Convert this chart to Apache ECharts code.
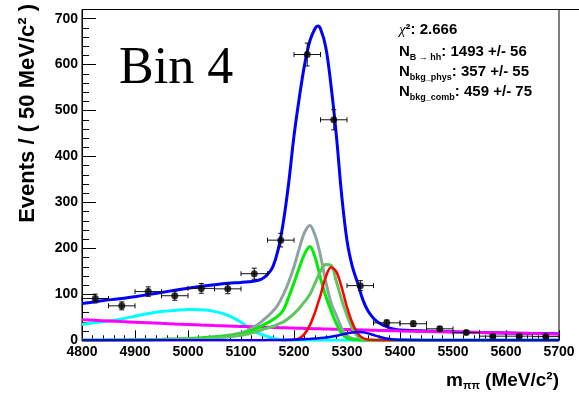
<!DOCTYPE html>
<html>
<head>
<meta charset="utf-8">
<script src="https://cdn.jsdelivr.net/npm/echarts@6/dist/echarts.min.js"></script>
<style>
  html, body { margin: 0; padding: 0; background: #ffffff; }
  #chart { width: 579px; height: 393px; }
</style>
</head>
<body>
<div id="chart"></div>
<script>
// ---- binned data (50 MeV/c^2 bins) ----
const binCentres = [4825, 4875, 4925, 4975, 5025, 5075, 5125, 5175, 5225, 5275,
                    5325, 5375, 5425, 5475, 5525, 5575, 5625, 5675];
const binCounts  = [91, 75, 106, 97, 113, 112, 145, 218, 622, 480,
                    119, 38, 36, 25, 17, 9, 9, 8];
const binErrors  = [9.5, 8.7, 10.3, 9.8, 10.6, 10.6, 12.0, 14.8, 24.9, 21.9,
                    10.9, 6.2, 6.0, 5.0, 4.1, 3.0, 3.0, 2.8];
const binHalfWidth = 25;

// ---- fit curves, sampled at fitMass ----
const fitMass = [4800, 4825, 4850, 4875, 4900, 4925, 4950, 4975, 5000, 5025, 5050, 5075,
  5100, 5110, 5120, 5130, 5140, 5150, 5160, 5170, 5180, 5190,
  5200, 5210, 5220, 5230, 5240, 5245, 5250, 5260, 5270, 5280, 5290,
  5300, 5310, 5320, 5330, 5340, 5350, 5360, 5370, 5380, 5390, 5400,
  5450, 5500, 5550, 5600, 5650, 5700];

const totalFit = [80, 84, 88, 91, 95, 99.5, 104, 109, 113.5, 117.5, 121, 124,
  126, 127, 128, 130, 134, 143, 160, 197, 258, 343,
  445, 528, 600, 652, 679, 684, 678, 638, 553, 445, 315,
  217, 161, 125, 88, 63, 48, 38, 32, 27, 24, 22.5,
  20, 18.5, 17, 16, 15, 14];

const combBkg = [45, 43.5, 42.1, 40.7, 39.5, 38.2, 36.9, 35.7, 34.6, 33.4, 32.3, 31.3,
  30.3, 29.9, 29.5, 29.1, 28.7, 28.4, 28.0, 27.6, 27.3, 26.9,
  26.6, 26.2, 25.9, 25.6, 25.2, 25.0, 24.9, 24.6, 24.3, 24.0, 23.7,
  23.4, 23.1, 22.8, 22.5, 22.2, 21.9, 21.6, 21.3, 21.0, 20.8, 20.5,
  19.2, 18.0, 16.8, 15.8, 14.8, 13.8];

const partRecoBkg = [35, 38.5, 42, 46.5, 52.5, 58.5, 62.5, 65, 67, 66.5, 63, 54.5,
  39.5, 31, 22.5, 16.5, 12, 8.5, 4.5, 1.5, 0.3, 0,
  0, 0, 0, 0, 0, 0, 0, 0, 0, 0, 0,
  0, 0, 0, 0, 0, 0, 0, 0, 0, 0, 0,
  0, 0, 0, 0, 0, 0];

const physBkgSum = [0.5, 0.6, 0.8, 1, 1.3, 1.7, 2.2, 3, 4, 5.5, 7.5, 11,
  16, 20, 26, 33, 42, 52, 63, 78, 100, 127,
  160, 200, 235, 250, 228, 208, 184, 128, 81, 54, 26,
  10, 4, 1.5, 0.5, 0, 0, 0, 0, 0, 0, 0,
  0, 0, 0, 0, 0, 0];

const physBkgA = [0.2, 0.3, 0.4, 0.6, 0.9, 1.3, 1.8, 2.5, 3.5, 5, 7, 9.5,
  13, 17, 21, 26, 32, 38, 45, 53, 66, 94,
  125, 158, 188, 204, 180, 159, 135, 96, 64, 36, 15,
  5, 1.5, 0.5, 0, 0, 0, 0, 0, 0, 0, 0,
  0, 0, 0, 0, 0, 0];

const physBkgB = [0.1, 0.2, 0.3, 0.4, 0.6, 0.8, 1.1, 1.5, 2, 3, 4.5, 7,
  11, 13, 16, 19, 23, 26.5, 30, 35, 40, 48,
  58, 70, 84, 100, 125, 138, 150, 165, 163, 128, 88,
  54, 26, 9, 2, 0.5, 0, 0, 0, 0, 0, 0,
  0, 0, 0, 0, 0, 0];

const physBkgC = [0, 0, 0, 0, 0, 0, 0, 0, 0, 0, 0, 0,
  0, 0, 0, 0, 0, 0, 0, 0, 0, 0.2,
  1, 4, 14, 33, 62, 80, 98, 138, 159, 149, 115,
  72, 38, 15, 5, 1.5, 0.3, 0, 0, 0, 0, 0,
  0, 0, 0, 0, 0, 0];

const physBkgD = [0, 0, 0, 0, 0, 0, 0, 0, 0, 0, 0, 0,
  0, 0, 0.1, 0.2, 0.3, 0.4, 0.5, 0.7, 0.9, 1.2,
  1.5, 2, 2.5, 3, 3.8, 4.3, 4.8, 6, 7.8, 10, 12.5,
  15, 17, 18, 17.5, 15, 11.5, 8, 5, 3, 1.8, 1,
  0.2, 0, 0, 0, 0, 0];

const statLines = [
  { label: '', sub: '', value: '2.666', chi: true },
  { label: 'N', sub: 'B \u2192 hh', value: ': 1493 +/- 56' },
  { label: 'N', sub: 'bkg_phys', value: ': 357 +/- 55' },
  { label: 'N', sub: 'bkg_comb', value: ': 459 +/- 75' }
];

const SANS = '"Liberation Sans", Arial, Helvetica, sans-serif';
const SERIF = '"Liberation Serif", "Times New Roman", serif';

const pairs = ys => fitMass.map((m, i) => [m, ys[i]]);

function curve(name, ys, color, width, z) {
  return {
    name: name, type: 'line', data: pairs(ys),
    smooth: 0.35, showSymbol: false, silent: true, clip: true, z: z,
    lineStyle: { color: color, width: width },
    animation: false
  };
}

const chart = echarts.init(document.getElementById('chart'), null, { renderer: 'canvas' });

// statistics block, one line at a time (main text + subscript)
const statBaselines = [37, 59.5, 79.5, 99.5];
const statGraphics = statLines.map((ln, i) => {
  let text;
  if (ln.chi) {
    text = '{g|\u03c7}{m|\u00b2: ' + ln.value + '}';
  } else {
    text = '{m|' + ln.label + '}{s|' + ln.sub + '}{m|' + ln.value + '}';
  }
  return {
    type: 'text', x: 399, y: statBaselines[i] - 12.7, silent: true,
    style: {
      text: text, align: 'left', verticalAlign: 'top', fill: '#000',
      rich: {
        m: { fontFamily: SANS, fontWeight: 'bold', fontSize: 15, lineHeight: 15,
             padding: [0, 0, 2, 0], verticalAlign: 'bottom', fill: '#000' },
        g: { fontFamily: SERIF, fontStyle: 'italic', fontSize: 15, lineHeight: 15,
             padding: [0, 0, 2, 0], verticalAlign: 'bottom', fill: '#000' },
        s: { fontFamily: SANS, fontWeight: 'bold', fontSize: 9, lineHeight: 9,
             verticalAlign: 'bottom', fill: '#000' }
      }
    }
  };
});

const option = {
  backgroundColor: '#ffffff',
  animation: false,
  grid: {
    left: 82, right: 20, top: 9.5, bottom: 52.7,
    show: true, borderColor: '#000', borderWidth: 1, backgroundColor: 'transparent'
  },
  xAxis: {
    type: 'value', min: 4800, max: 5700, interval: 100,
    axisLine: { show: true, onZero: false, lineStyle: { color: '#000', width: 1 } },
    axisTick: { show: true, inside: true, length: 10, lineStyle: { color: '#000', width: 1 } },
    minorTick: { show: true, splitNumber: 5, length: 5, lineStyle: { color: '#000', width: 1 } },
    splitLine: { show: false },
    minorSplitLine: { show: false },
    axisLabel: {
      color: '#000', fontFamily: SANS, fontWeight: 'bold', fontSize: 14, margin: 5,
      showMinLabel: true, showMaxLabel: true,
      formatter: v => String(v)
    }
  },
  yAxis: [
    {
      type: 'value', min: 0, max: 720, interval: 100,
      axisLine: { show: true, lineStyle: { color: '#000', width: 1 } },
      axisTick: { show: true, inside: true, length: 14, lineStyle: { color: '#000', width: 1 } },
      splitLine: { show: false },
      axisLabel: {
        color: '#000', fontFamily: SANS, fontWeight: 'bold', fontSize: 14, margin: 4,
        formatter: v => (v % 100 === 0 ? String(v) : '')
      }
    },
    {
      // finer tick marks every 20 events
      type: 'value', min: 0, max: 720, interval: 20, position: 'left',
      axisLine: { show: false },
      axisTick: { show: true, inside: true, length: 7, lineStyle: { color: '#000', width: 1 } },
      splitLine: { show: false },
      axisLabel: { show: false }
    }
  ],
  series: [
    curve('total', totalFit, '#0000ff', 3, 3),
    curve('partReco', partRecoBkg, '#00ffff', 3, 4),
    curve('comb', combBkg, '#ff00ff', 3, 5),
    curve('physSum', physBkgSum, '#8fa3a3', 3, 6),
    curve('physA', physBkgA, '#00ee00', 3, 7),
    curve('physB', physBkgB, '#5fc65f', 3, 8),
    curve('physC', physBkgC, '#ff0000', 2.5, 9),
    curve('physD', physBkgD, '#0000ff', 2.5, 9),
    {
      name: 'errors', type: 'custom', z: 20, silent: true, animation: false,
      data: binCentres.map((m, i) => [m, binCounts[i], binErrors[i]]),
      renderItem: function (params, api) {
        const x = api.value(0), y = api.value(1), e = api.value(2);
        const l = api.coord([x - binHalfWidth, y]);
        const r = api.coord([x + binHalfWidth, y]);
        const t = api.coord([x, y + e]);
        const b = api.coord([x, y - e]);
        const cap = 2.5;
        const st = { stroke: '#111', lineWidth: 1 };
        const seg = (x1, y1, x2, y2) => ({ type: 'line', shape: { x1, y1, x2, y2 }, style: st });
        return {
          type: 'group',
          children: [
            seg(l[0], l[1], r[0], r[1]),
            seg(t[0], t[1], b[0], b[1]),
            seg(l[0], l[1] - cap, l[0], l[1] + cap),
            seg(r[0], r[1] - cap, r[0], r[1] + cap),
            seg(t[0] - cap, t[1], t[0] + cap, t[1]),
            seg(b[0] - cap, b[1], b[0] + cap, b[1])
          ]
        };
      }
    },
    {
      name: 'data', type: 'scatter', z: 21, silent: true, animation: false,
      symbol: 'circle', symbolSize: 7,
      itemStyle: { color: '#000' },
      data: binCentres.map((m, i) => [m, binCounts[i]])
    }
  ],
  graphic: [
    // top edge of the frame runs to the canvas border
    { type: 'line', silent: true, shape: { x1: 559, y1: 9.5, x2: 579, y2: 9.5 },
      style: { stroke: '#000', lineWidth: 1 } },
    {
      type: 'text', x: 119, y: 69.5, silent: true,
      style: { text: 'Bin 4', fontFamily: SERIF, fontSize: 52, fill: '#000',
               align: 'left', verticalAlign: 'middle' }
    },
    {
      type: 'text', x: 27.5, y: 4, rotation: Math.PI / 2, silent: true,
      style: { text: 'Events / ( 50 MeV/c\u00b2 )', fontFamily: SANS, fontWeight: 'bold',
               fontSize: 22, fill: '#000', align: 'right', verticalAlign: 'middle' }
    },
    {
      type: 'text', x: 559, y: 372.8, silent: true,
      style: {
        text: '{m|m}{s|\u03c0\u03c0}{m| (MeV/c\u00b2)}',
        align: 'right', verticalAlign: 'top', fill: '#000',
        rich: {
          m: { fontFamily: SANS, fontWeight: 'bold', fontSize: 19, lineHeight: 19,
               padding: [0, 0, 2, 0], verticalAlign: 'bottom', fill: '#000' },
          s: { fontFamily: SANS, fontWeight: 'bold', fontSize: 11, lineHeight: 11,
               verticalAlign: 'bottom', fill: '#000' }
        }
      }
    }
  ].concat(statGraphics)
};

chart.setOption(option);
</script>
</body>
</html>
